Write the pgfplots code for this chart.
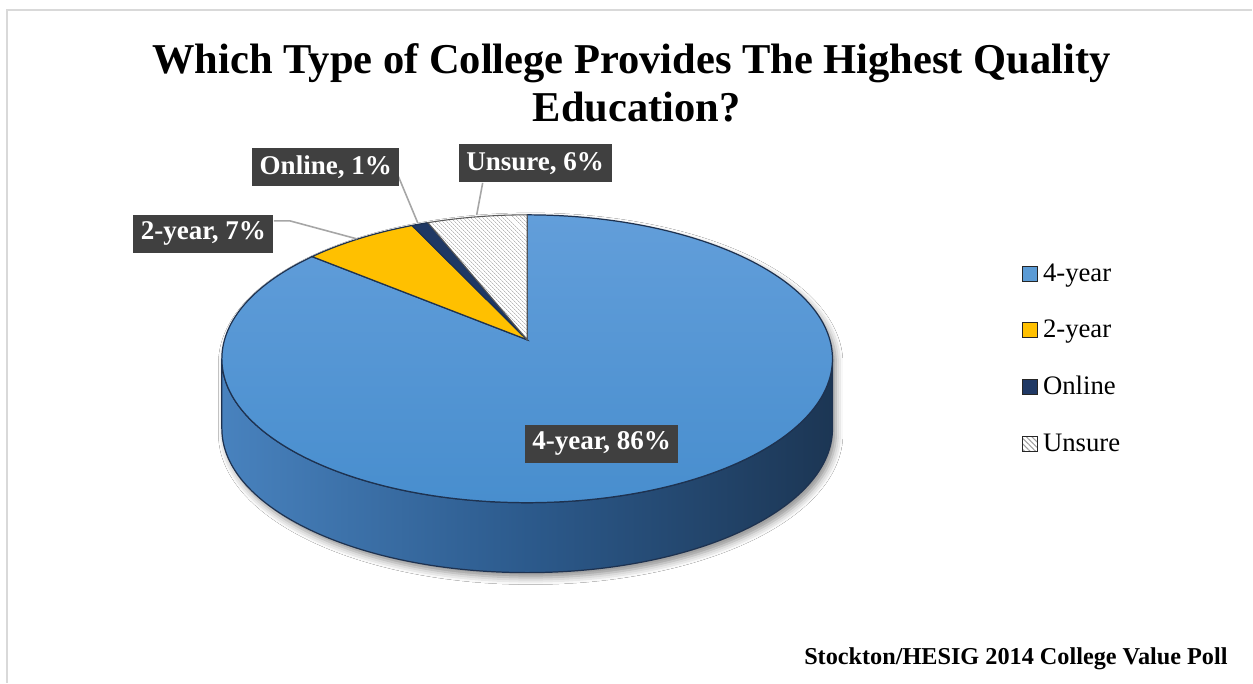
\documentclass[border=0pt]{standalone}
\usepackage{fontspec}
\setmainfont{Liberation Serif}
\usepackage{pgfplots}
\pgfplotsset{compat=1.18}
\usepackage{pgfplotstable}
\usetikzlibrary{calc,patterns.meta,shadows.blur}

\definecolor{blueT}{RGB}{98,158,218}
\definecolor{blueB}{RGB}{72,142,206}
\definecolor{sideL}{RGB}{72,130,190}
\definecolor{sideM}{RGB}{44,90,140}
\definecolor{sideR}{RGB}{28,54,84}
\definecolor{gold}{RGB}{255,192,0}
\definecolor{navy}{RGB}{31,56,100}
\definecolor{edge}{RGB}{30,50,80}
\definecolor{lblbg}{RGB}{64,64,64}
\definecolor{leader}{RGB}{166,166,166}
\definecolor{frame}{RGB}{217,217,217}
\definecolor{legblue}{RGB}{91,155,213}

\pgfplotstableread{
cat val
4-year 86
2-year 7
Online 1
Unsure 6
}\piedata

% perspective parameter of the tilted pie
\def\bb{0.0663}
\newcommand\mapang[2]{\pgfmathsetmacro#1{atan2(sin(#2)+\bb,cos(#2))-atan2(-\bb*cos(#2),1+\bb*sin(#2))}}
\def\RX{3.055cm}
\def\RY{1.44cm}
\def\DEP{0.70cm}

\begin{document}
\begin{tikzpicture}
\pgfplotstablegetelem{0}{val}\of\piedata \let\va\pgfplotsretval
\pgfplotstablegetelem{1}{val}\of\piedata \let\vb\pgfplotsretval
\pgfplotstablegetelem{2}{val}\of\piedata \let\vc\pgfplotsretval
\pgfmathsetmacro\tA{90-3.6*\va}
\pgfmathsetmacro\tB{\tA-3.6*\vb}
\pgfmathsetmacro\tC{\tB-3.6*\vc}
\mapang\pA\tA
\mapang\pB\tB
\mapang\pC\tC
\pgfmathsetmacro\pAm{\pA-360}
\begin{axis}[scale only axis, width=12.53cm, height=6.83cm,
  xmin=0, xmax=1253, ymin=0, ymax=683, hide axis, clip=false,
  at={(0,0)}, anchor=south west]
\fill[white] (0,0) rectangle (1253,683);
\draw[frame, line width=0.45pt] (7,0) -- (7,673) -- (1253,673);

\coordinate (C) at (527.5,324);
\coordinate (A) at (527.5,343);

% shadow silhouette
\path[fill=white, blur shadow={shadow xshift=0.035cm, shadow yshift=-0.05cm, shadow blur radius=0.07cm, shadow opacity=45}]
  ($(C)+(-3.055cm,0)$) arc[start angle=180,end angle=0,x radius=\RX,y radius=\RY]
  -- ++(0,-\DEP) arc[start angle=0,end angle=-180,x radius=\RX,y radius=\RY] -- cycle;
% side
\path[left color=sideL, right color=sideR, middle color=sideM, draw=edge, line width=0.35pt]
  ($(C)+(-3.055cm,0)$) arc[start angle=180,end angle=360,x radius=\RX,y radius=\RY]
  -- ++(0,-\DEP) arc[start angle=0,end angle=-180,x radius=\RX,y radius=\RY] -- cycle;
% 4-year top
\path[top color=blueT, bottom color=blueB, draw=edge, line width=0.35pt]
  (A) -- ($(C)+(90:3.055cm and 1.44cm)$) arc[start angle=90,end angle=\pAm,x radius=\RX,y radius=\RY] -- cycle;
% 2-year
\path[fill=gold, draw=edge, line width=0.35pt]
  (A) -- ($(C)+(\pA:3.055cm and 1.44cm)$) arc[start angle=\pA,end angle=\pB,x radius=\RX,y radius=\RY] -- cycle;
% Online
\path[fill=navy, draw=edge, line width=0.35pt]
  (A) -- ($(C)+(\pB:3.055cm and 1.44cm)$) arc[start angle=\pB,end angle=\pC,x radius=\RX,y radius=\RY] -- cycle;
% Unsure
\path[fill=white, postaction={pattern={Lines[angle=-45,distance=0.9pt,line width=0.25pt]}, pattern color=gray!55}]
  (A) -- ($(C)+(\pC:3.055cm and 1.44cm)$) arc[start angle=\pC,end angle=90,x radius=\RX,y radius=\RY] -- cycle;
\path[draw=gray!70!black, line width=0.3pt]
  (A) -- ($(C)+(\pC:3.055cm and 1.44cm)$) arc[start angle=\pC,end angle=90,x radius=\RX,y radius=\RY] -- cycle;

% leader lines
\draw[leader, line width=0.45pt] (274,462) -- (290,462) -- (357,444);
\draw[leader, line width=0.45pt] (398,508) -- (418,460);
\draw[leader, line width=0.45pt] (483,500) -- (477,468);

% data labels
\tikzset{lbl/.style={fill=lblbg, text=white, font=\bfseries\fontsize{7.7}{9}\selectfont, inner xsep=0.075cm, inner ysep=0pt, minimum height=0.38cm}}
\node[lbl] at (602,239) {4-year, 86\%};
\node[lbl] at (203.5,449) {2-year, 7\%};
\node[lbl] at (326,515.5) {Online, 1\%};
\node[lbl] at (535.5,519.5) {Unsure, 6\%};

% legend
\tikzset{legtxt/.style={anchor=base west, inner sep=0pt, font=\fontsize{7.6}{9}\selectfont}}
\draw[fill=legblue, draw=black!85, line width=0.35pt] (1023,401) rectangle (1038,416);
\node[legtxt] at (1043,401) {4-year};
\draw[fill=gold, draw=black!85, line width=0.35pt] (1023,345) rectangle (1038,360);
\node[legtxt] at (1043,345) {2-year};
\draw[fill=navy, draw=black!85, line width=0.35pt] (1023,288) rectangle (1038,303);
\node[legtxt] at (1043,288) {Online};
\path[fill=white, postaction={pattern={Lines[angle=-45,distance=1.1pt,line width=0.3pt]}, pattern color=gray!75}] (1023,231) rectangle (1038,246);
\draw[draw=black!85, line width=0.35pt] (1023,231) rectangle (1038,246);
\node[legtxt] at (1043,231) {Unsure};

% title
\node[anchor=base, inner sep=0pt, font=\bfseries\fontsize{12.1}{14}\selectfont] at (632,609) {Which Type of College Provides The Highest Quality};
\node[anchor=base, inner sep=0pt, font=\bfseries\fontsize{12.1}{14}\selectfont] at (637,561) {Education?};
% source
\node[anchor=base east, inner sep=0pt, font=\bfseries\fontsize{6.9}{8}\selectfont] at (1229,18) {Stockton/HESIG 2014 College Value Poll};
\end{axis}
\end{tikzpicture}
\end{document}
